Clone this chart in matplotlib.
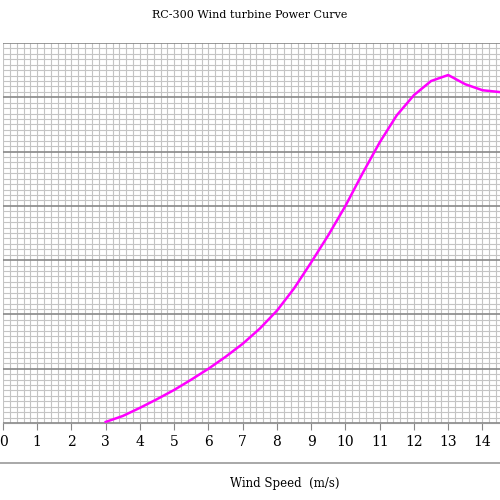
import numpy as np
import matplotlib.pyplot as plt
from matplotlib.lines import Line2D

wind = [3, 3.5, 4, 4.5, 5, 5.5, 6, 6.5, 7, 7.5, 8, 8.5, 9, 9.5, 10, 10.5, 11, 11.5, 12, 12.5, 13, 13.5, 14, 14.6]
power = [0.02, 0.13, 0.28, 0.44, 0.61, 0.8, 1.0, 1.22, 1.46, 1.74, 2.07, 2.48, 2.96, 3.46, 4.0, 4.6, 5.17, 5.67, 6.04, 6.3, 6.41, 6.24, 6.13, 6.09]

plt.rcParams['font.family'] = ['DejaVu Serif']
fig = plt.figure(figsize=(5, 5), dpi=100)
ax = fig.add_axes([0.006, 0.154, 1.0, 0.76])
ax.set_xlim(0, 14.6)
ax.set_ylim(0, 7)
ax.set_xticks(np.arange(0, 15, 1))
ax.set_xticks(np.arange(0, 14.61, 0.2), minor=True)
ax.set_yticks(np.arange(0, 7.01, 1))
ax.set_yticks(np.arange(0, 7.01, 0.1), minor=True)
ax.grid(which='minor', color='#c4c4c4', lw=0.8)
ax.grid(which='major', axis='y', color='#888888', lw=1.2)
ax.grid(which='major', axis='x', color='#c4c4c4', lw=0.8)
ax.tick_params(axis='y', which='both', left=False, labelleft=False)
ax.tick_params(axis='x', which='major', length=5, color='#888888', labelsize=10)
ax.tick_params(axis='x', which='minor', length=0)
for s in ['top', 'right', 'left']:
    ax.spines[s].set_visible(False)
ax.spines['bottom'].set_color('#999999')
ax.plot(wind, power, color='#ff00ff', lw=1.8, solid_joinstyle='round')
fig.text(0.5, 0.965, 'RC-300 Wind turbine Power Curve', ha='center', fontsize=8)
fig.text(0.57, 0.025, 'Wind Speed  (m/s)', ha='center', fontsize=8.5)
fig.add_artist(Line2D([0, 1], [0.075, 0.075], color='#999999', lw=1.2, transform=fig.transFigure))
fig.savefig('out.png')
